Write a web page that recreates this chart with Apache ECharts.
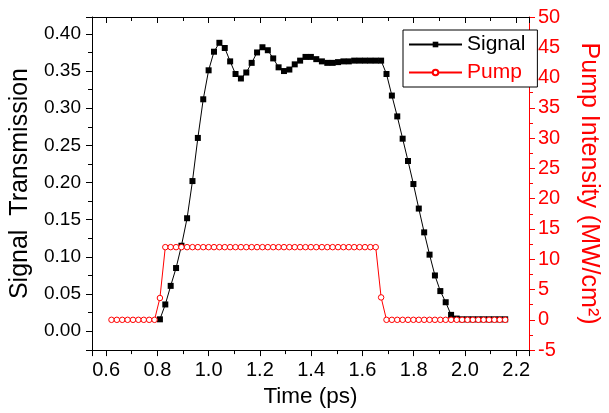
<!DOCTYPE html>
<html>
<head>
<meta charset="utf-8">
<script src="https://cdn.jsdelivr.net/npm/echarts@6/dist/echarts.min.js"></script>
<style>
html,body{margin:0;padding:0;background:#fff;}
#chart{width:609px;height:413px;}
</style>
</head>
<body>
<div id="chart"></div>
<script>
// Time (ps)
const timePs = [
  0.621, 0.642, 0.663, 0.684, 0.705, 0.726, 0.747, 0.768, 0.789, 0.810,
  0.831, 0.852, 0.873, 0.894, 0.916, 0.937, 0.958, 0.979, 1.000, 1.021,
  1.042, 1.063, 1.084, 1.105, 1.126, 1.147, 1.168, 1.189, 1.210, 1.231,
  1.252, 1.273, 1.294, 1.315, 1.336, 1.357, 1.378, 1.399, 1.420, 1.442,
  1.463, 1.484, 1.505, 1.526, 1.547, 1.568, 1.589, 1.610, 1.631, 1.652,
  1.673, 1.694, 1.715, 1.736, 1.757, 1.778, 1.799, 1.820, 1.841, 1.862,
  1.883, 1.904, 1.925, 1.946, 1.968, 1.989, 2.010, 2.031, 2.052, 2.073,
  2.094, 2.115, 2.136, 2.157
];
// Signal transmission (left axis); null = no point
const signalValues = [
  null, null, null, null, null, null, null, null, null, 0.016,
  0.036, 0.061, 0.085, 0.115, 0.152, 0.202, 0.260, 0.312, 0.351, 0.376,
  0.388, 0.381, 0.363, 0.346, 0.340, 0.348, 0.361, 0.375, 0.382, 0.378,
  0.367, 0.355, 0.350, 0.352, 0.359, 0.364, 0.369, 0.369, 0.366, 0.363,
  0.361, 0.361, 0.362, 0.363, 0.363, 0.364, 0.364, 0.364, 0.364, 0.364,
  0.364, 0.346, 0.317, 0.289, 0.259, 0.229, 0.198, 0.165, 0.133, 0.103,
  0.075, 0.054, 0.039, 0.022, 0.017, 0.016, 0.016, 0.016, 0.016, 0.016,
  0.016, 0.016, 0.016, 0.016
];
// Pump intensity (MW/cm2, right axis)
const pumpValues = [
  0, 0, 0, 0, 0, 0, 0, 0, 0, 3.6,
  12, 12, 12, 12, 12, 12, 12, 12, 12, 12,
  12, 12, 12, 12, 12, 12, 12, 12, 12, 12,
  12, 12, 12, 12, 12, 12, 12, 12, 12, 12,
  12, 12, 12, 12, 12, 12, 12, 12, 12, 12,
  3.7, 0, 0, 0, 0, 0, 0, 0, 0, 0,
  0, 0, 0, 0, 0, 0, 0, 0, 0, 0,
  0, 0, 0, 0
];
const seriesNames = ['Signal', 'Pump'];
const xTitle = 'Time (ps)';
const yLeftTitle = 'Signal  Transmission';
const yRightTitle = 'Pump Intensity (MW/cm²)';

const FONT = 'Liberation Sans, Arial, sans-serif';
const RED = '#ff0000';

const chart = echarts.init(document.getElementById('chart'), null, {renderer: 'canvas'});

const signalData = timePs.map((t, i) => [t, signalValues[i] === null ? '-' : signalValues[i]]);
const pumpData = timePs.map((t, i) => [t, pumpValues[i]]);

const option = {
  animation: false,
  backgroundColor: '#fff',
  textStyle: {fontFamily: FONT},
  grid: {left: 92, right: 68, top: 17, bottom: 61, containLabel: false},
  legend: {
    orient: 'vertical',
    left: 403, top: 30,
    borderColor: '#000', borderWidth: 1,
    backgroundColor: '#fff',
    padding: [4, 12, 4, 5],
    itemWidth: 53, itemHeight: 7, itemGap: 7,
    textStyle: {fontSize: 21, fontFamily: FONT},
    data: [
      {name: seriesNames[0], textStyle: {color: '#000'}},
      {name: seriesNames[1], textStyle: {color: RED}}
    ]
  },
  xAxis: [
    {
      type: 'value', position: 'bottom',
      min: 0.545, max: 2.25, minInterval: 0.2, maxInterval: 0.2,
      name: xTitle, nameLocation: 'middle', nameGap: 33,
      nameTextStyle: {fontSize: 22.5, color: '#000', fontFamily: FONT},
      axisLine: {show: true, onZero: false, lineStyle: {color: '#000', width: 1}},
      axisTick: {show: true, inside: false, length: 6, lineStyle: {color: '#000'}},
      minorTick: {show: true, splitNumber: 2, length: 4, lineStyle: {color: '#000'}},
      axisLabel: {color: '#000', fontSize: 20, margin: 10, showMinLabel: false, showMaxLabel: false,
        formatter: v => v.toFixed(1)},
      splitLine: {show: false}
    },
    {
      type: 'value', position: 'top',
      min: 0.545, max: 2.25, minInterval: 0.2, maxInterval: 0.2,
      axisLine: {show: true, onZero: false, lineStyle: {color: '#000', width: 1}},
      axisTick: {show: true, inside: true, length: 6, lineStyle: {color: '#000'}},
      minorTick: {show: true, splitNumber: 2, length: 4, lineStyle: {color: '#000'}},
      axisLabel: {show: false},
      splitLine: {show: false}
    }
  ],
  yAxis: [
    {
      type: 'value', position: 'left',
      min: -0.0254, max: 0.4227, minInterval: 0.05, maxInterval: 0.05,
      name: yLeftTitle, nameLocation: 'middle', nameGap: 59,
      nameTextStyle: {fontSize: 25, color: '#000', fontFamily: FONT},
      axisLine: {show: true, onZero: false, lineStyle: {color: '#000', width: 1}},
      axisTick: {show: true, inside: false, length: 6, lineStyle: {color: '#000'}},
      minorTick: {show: true, splitNumber: 2, length: 4, lineStyle: {color: '#000'}},
      axisLabel: {color: '#000', fontSize: 19, margin: 11, showMinLabel: false, showMaxLabel: false,
        formatter: v => v.toFixed(2)},
      splitLine: {show: false}
    },
    {
      type: 'value', position: 'right',
      min: -5, max: 50, interval: 5,
      name: yRightTitle, nameLocation: 'middle', nameGap: 47, nameRotate: -90,
      nameTextStyle: {fontSize: 25, color: RED, fontFamily: FONT},
      axisLine: {show: true, onZero: false, lineStyle: {color: RED, width: 1}},
      axisTick: {show: true, inside: false, length: 6, lineStyle: {color: RED}},
      minorTick: {show: true, splitNumber: 2, length: 4, lineStyle: {color: RED}},
      axisLabel: {color: RED, fontSize: 20, margin: 9},
      splitLine: {show: false}
    }
  ],
  series: [
    {
      name: seriesNames[0], type: 'line',
      xAxisIndex: 0, yAxisIndex: 0,
      data: signalData,
      symbol: 'rect', symbolSize: 6,
      itemStyle: {color: '#000'},
      lineStyle: {color: '#000', width: 1},
      connectNulls: false,
      z: 2
    },
    {
      name: seriesNames[1], type: 'line',
      xAxisIndex: 0, yAxisIndex: 1,
      data: pumpData,
      symbol: 'circle', symbolSize: 5.5,
      itemStyle: {color: '#fff', borderColor: RED, borderWidth: 1},
      lineStyle: {color: RED, width: 1},
      z: 3
    }
  ]
};
chart.setOption(option);
</script>
</body>
</html>
